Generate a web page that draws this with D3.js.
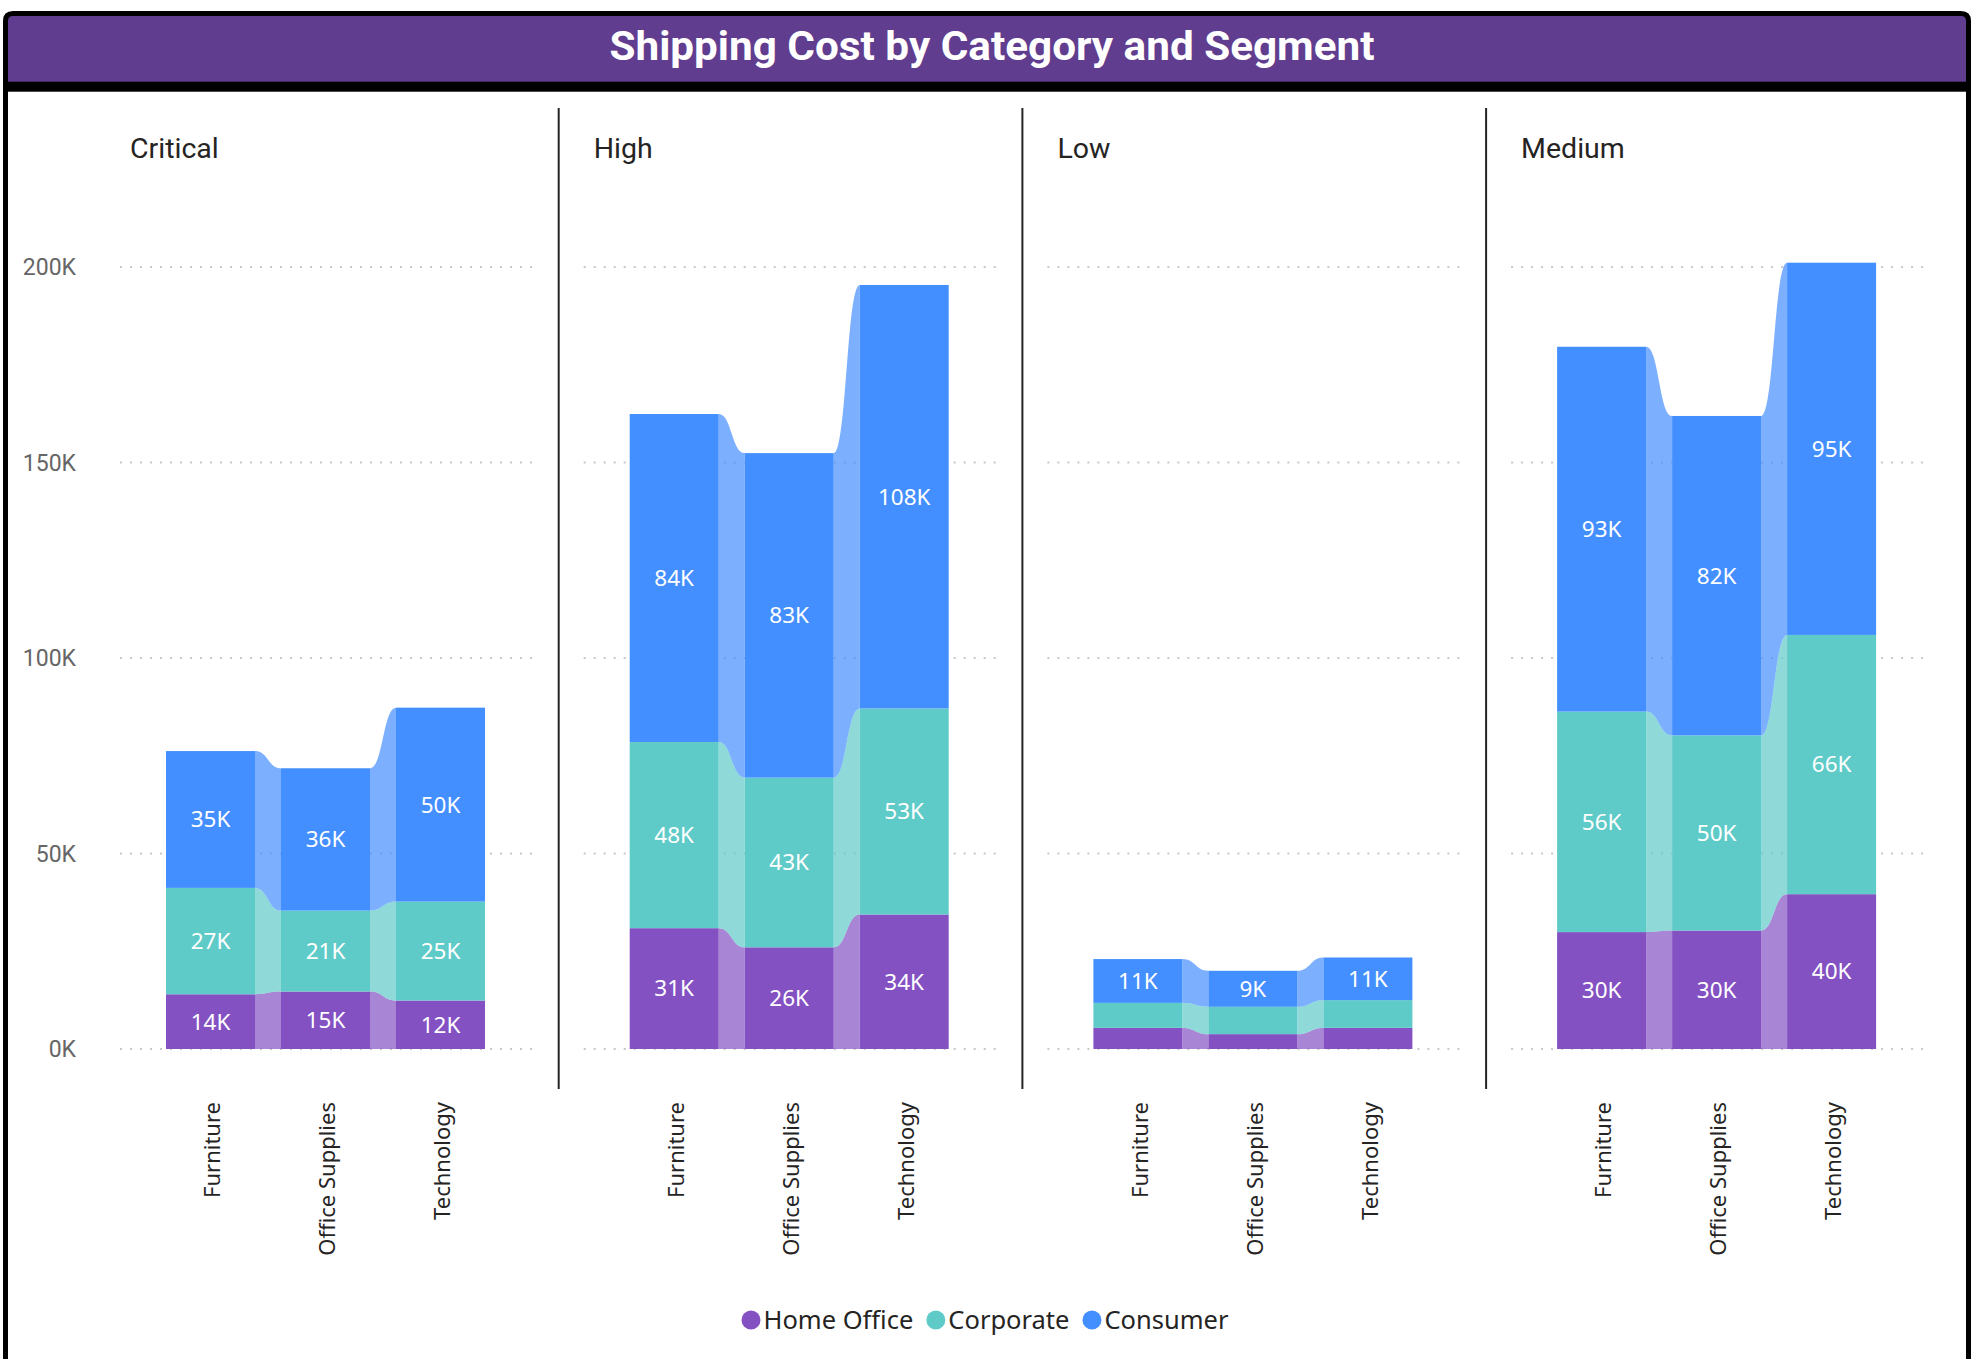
<!DOCTYPE html>
<html><head><meta charset="utf-8">
<script src="https://cdn.jsdelivr.net/npm/d3@7"></script>
<style>body{margin:0;background:#fff;overflow:hidden} svg{display:block}</style>
</head><body>
<svg id="c" width="1986" height="1359"></svg>
<script>
// ---------- DATA (values in thousands) ----------
const chartTitle = "Shipping Cost by Category and Segment";
const priorities = ["Critical", "High", "Low", "Medium"];
const categories = ["Furniture", "Office Supplies", "Technology"];
const segments = ["Home Office", "Corporate", "Consumer"];
// rows: priority, columns: category
const homeOffice = [
  [14.0, 14.7, 12.4],
  [30.9, 26.0, 34.4],
  [5.4, 3.8, 5.4],
  [29.9, 30.3, 39.6]
];
const corporate = [
  [27.2, 20.7, 25.3],
  [47.6, 43.4, 52.7],
  [6.4, 7.0, 7.1],
  [56.4, 49.9, 66.3]
];
const consumer = [
  [35.0, 36.4, 49.6],
  [83.9, 83.0, 108.3],
  [11.2, 9.2, 10.9],
  [93.3, 81.7, 95.2]
];
const yTicks = [0, 50, 100, 150, 200];
const yTickLabels = ["0K", "50K", "100K", "150K", "200K"];
const segmentColors = ["#8451C3", "#5FCBC8", "#448FFF"];

// ---------- DRAW ----------
const svg = d3.select("#c");
const seriesData = [homeOffice, corporate, consumer];

// frame & title bar
svg.append("rect").attr("x", 8).attr("y", 16).attr("width", 1958).attr("height", 66)
  .attr("fill", "#613D8F");
svg.append("rect").attr("x", 8).attr("y", 81.7).attr("width", 1958).attr("height", 10)
  .attr("fill", "#000");
svg.append("path")
  .attr("d", "M5.5,1370 V21 Q5.5,13.5 13,13.5 H1961 Q1968.5,13.5 1968.5,21 V1370")
  .attr("fill", "none").attr("stroke", "#000").attr("stroke-width", 5);

svg.append("text").attr("x", 992).attr("y", 60)
  .attr("text-anchor", "middle")
  .attr("font-family", "Roboto, 'DejaVu Sans'").attr("font-weight", 700)
  .attr("font-size", 41).attr("fill", "#fff")
  .attr("textLength", 765).attr("lengthAdjust", "spacingAndGlyphs")
  .text(chartTitle);

const panelX = d3.scaleBand().domain(priorities).range([95, 95 + 4 * 463.7]);
const x = d3.scaleBand().domain(categories).range([71, 390]).paddingInner(0.226).paddingOuter(0);
const y = d3.scaleLinear().domain([0, 200]).range([1049, 267]);
const bw = x.bandwidth();

// y-axis tick labels (first panel only)
svg.append("g").selectAll("text").data(yTicks).join("text")
  .attr("x", 76).attr("y", d => y(d)).attr("dy", "0.35em")
  .attr("text-anchor", "end")
  .attr("font-family", "Roboto, 'DejaVu Sans'").attr("font-size", 23)
  .attr("fill", "#666")
  .text((d, i) => yTickLabels[i]);

const stack = d3.stack().keys(d3.range(segments.length));

priorities.forEach((p, pi) => {
  const px = panelX(p);
  const g = svg.append("g").attr("transform", `translate(${px},0)`);

  // separator
  if (pi > 0) {
    g.append("line").attr("x1", 0).attr("x2", 0).attr("y1", 108).attr("y2", 1089)
      .attr("stroke", "#252423").attr("stroke-width", 2);
  }

  // panel title
  g.append("text").attr("x", 35).attr("y", 158)
    .attr("font-family", "Roboto, 'DejaVu Sans'").attr("font-weight", 400)
    .attr("font-size", 28.5).attr("fill", "#252423").text(p);

  // gridlines
  g.append("g").selectAll("line").data(yTicks).join("line")
    .attr("x1", 25).attr("x2", 437).attr("y1", d => y(d)).attr("y2", d => y(d))
    .attr("stroke", "#c8c8c8").attr("stroke-width", 2).attr("stroke-dasharray", "2,8");

  // stack rows
  const rows = categories.map((c, ci) => seriesData.map(s => s[pi][ci]));
  const stacked = stack(rows);

  // ribbons
  stacked.forEach((layer, si) => {
    for (let ci = 0; ci < categories.length - 1; ci++) {
      const a = layer[ci], b = layer[ci + 1];
      const xl = x(categories[ci]) + bw, xr = x(categories[ci + 1]);
      const xm = (xl + xr) / 2;
      const t0 = y(a[1]), t1 = y(b[1]), b0 = y(a[0]), b1 = y(b[0]);
      const path = `M${xl},${t0} C${xm},${t0} ${xm},${t1} ${xr},${t1} L${xr},${b1} C${xm},${b1} ${xm},${b0} ${xl},${b0} Z`;
      g.append("path").attr("d", path).attr("fill", segmentColors[si]).attr("fill-opacity", 0.7);
    }
  });

  // bars
  stacked.forEach((layer, si) => {
    g.append("g").selectAll("rect").data(layer).join("rect")
      .attr("x", (d, ci) => x(categories[ci]))
      .attr("width", bw)
      .attr("y", d => y(d[1]))
      .attr("height", d => y(d[0]) - y(d[1]))
      .attr("fill", segmentColors[si]);
  });

  // data labels
  stacked.forEach((layer, si) => {
    g.append("g").selectAll("text").data(layer.filter(d => y(d[0]) - y(d[1]) >= 30))
      .join("text")
      .attr("x", d => x(categories[layer.indexOf(d)]) + bw / 2)
      .attr("y", d => (y(d[0]) + y(d[1])) / 2)
      .attr("dy", "0.35em")
      .attr("text-anchor", "middle")
      .attr("font-family", "'Noto Sans', 'Open Sans'").attr("font-size", 22.5)
      .attr("fill", "#fff")
      .text(d => Math.round(d[1] - d[0]) + "K");
  });

  // category labels
  g.append("g").selectAll("text").data(categories).join("text")
    .attr("transform", c => `translate(${x(c) + bw / 2 + 2},1102) rotate(-90)`)
    .attr("dy", "0.35em")
    .attr("text-anchor", "end")
    .attr("font-family", "'Noto Sans', 'Open Sans'").attr("font-size", 22)
    .attr("fill", "#252423")
    .text(c => c);
});

// legend
const lg = svg.append("g");
let cx = 741.5;
segments.forEach((s, si) => {
  lg.append("circle").attr("cx", cx + 9.5).attr("cy", 1320).attr("r", 9.5)
    .attr("fill", segmentColors[si]);
  const t = lg.append("text").attr("x", cx + 22).attr("y", 1320).attr("dy", "0.35em")
    .attr("font-family", "'Noto Sans', 'Open Sans'").attr("font-size", 25.5)
    .attr("fill", "#252423").text(s);
  cx += 22 + t.node().getComputedTextLength() + 13;
});
</script>
</body></html>
